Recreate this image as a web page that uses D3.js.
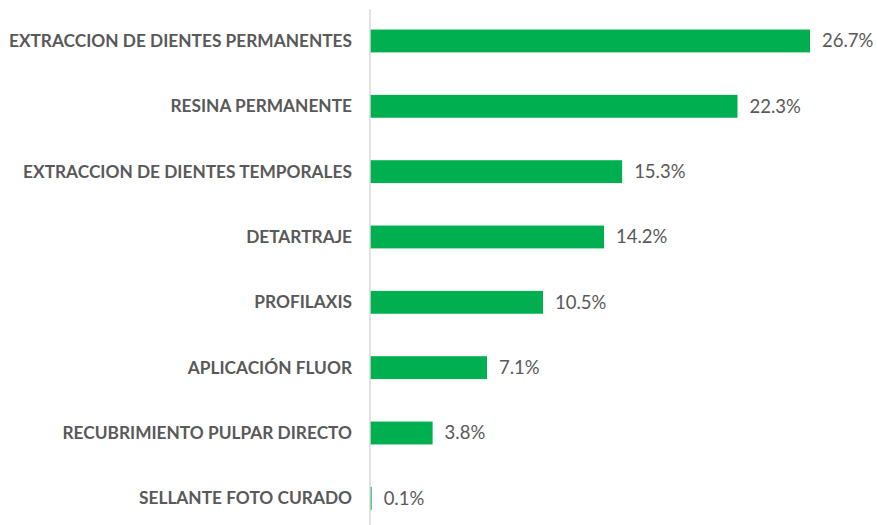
<!DOCTYPE html>
<html><head><meta charset="utf-8">
<script src="https://cdn.jsdelivr.net/npm/d3@7"></script>
<style>body{margin:0;background:#fff}</style>
</head><body>
<svg id="c" width="877" height="525"></svg>
<script>
const categories = ["EXTRACCION DE DIENTES PERMANENTES","RESINA PERMANENTE","EXTRACCION DE DIENTES TEMPORALES","DETARTRAJE","PROFILAXIS","APLICACIÓN FLUOR","RECUBRIMIENTO PULPAR DIRECTO","SELLANTE FOTO CURADO"];
const values = [26.7,22.3,15.3,14.2,10.5,7.1,3.8,0.1];
const labels = ["26.7%","22.3%","15.3%","14.2%","10.5%","7.1%","3.8%","0.1%"];

const svg = d3.select("#c");
const x0 = 370;
const x = d3.scaleLinear().domain([0, 26.7]).range([x0, 810]);
const y = d3.scaleBand().domain(categories).range([8.3, 531]).paddingInner(0.65).paddingOuter(0.325);

svg.selectAll("rect.bar").data(values).enter().append("rect")
  .attr("x", x0)
  .attr("y", (d,i) => y(categories[i]))
  .attr("width", d => Math.max(0, x(d) - x0))
  .attr("height", y.bandwidth())
  .attr("fill", "#00b050");

svg.append("line").attr("x1", x0).attr("x2", x0).attr("y1", 9).attr("y2", 525)
  .attr("stroke", "#d9d9d9").attr("stroke-width", 1.5);

svg.selectAll("text.cat").data(categories).enter().append("text")
  .attr("x", 352).attr("y", d => y(d) + y.bandwidth()/2)
  .attr("dy", "0.35em").attr("text-anchor", "end")
  .attr("font-family", "Lato, 'Open Sans', sans-serif").attr("font-weight", "bold")
  .attr("font-size", 17.3).attr("fill", "#595959").text(d => d);

svg.selectAll("text.val").data(values).enter().append("text")
  .attr("x", d => x(d) + 12).attr("y", (d,i) => y(categories[i]) + y.bandwidth()/2)
  .attr("dy", "0.35em")
  .attr("font-family", "Lato, 'Open Sans', sans-serif")
  .attr("font-size", 18.5).attr("fill", "#595959").text((d,i) => labels[i]);
</script>
</body></html>
